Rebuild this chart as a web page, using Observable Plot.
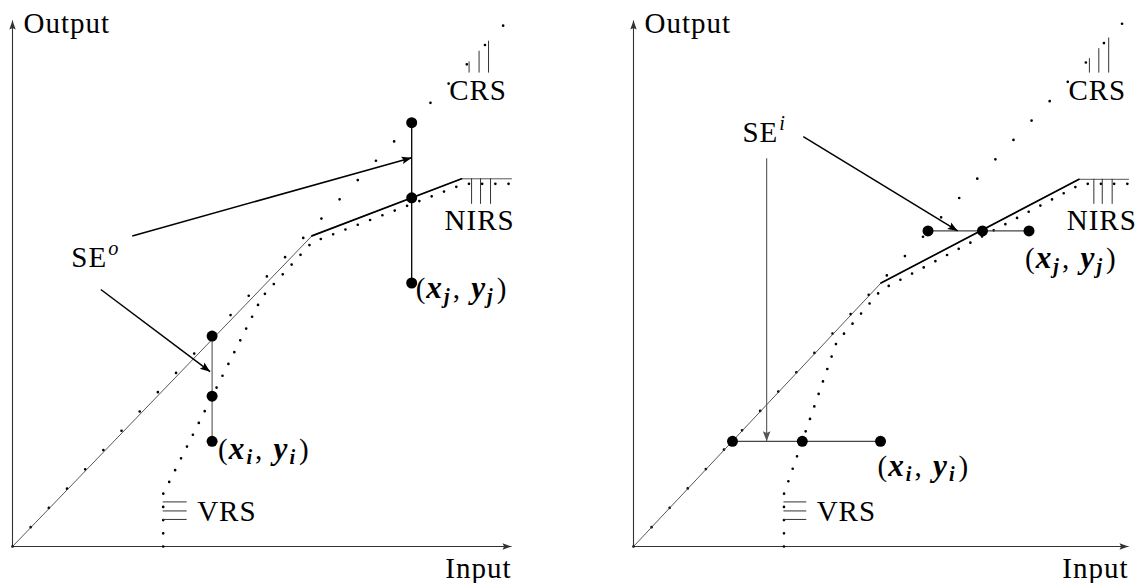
<!DOCTYPE html>
<html>
<head>
<meta charset="utf-8">
<script src="https://cdn.jsdelivr.net/npm/d3@7"></script>
<script src="https://cdn.jsdelivr.net/npm/@observablehq/plot@0.6"></script>
<style>
  html, body { margin: 0; padding: 0; background: #fff; }
  #fig { position: relative; width: 1137px; height: 583px; overflow: hidden; }
  #fig svg { position: absolute; top: 0; }
</style>
</head>
<body>
<div id="fig"></div>
<script>
// ---- Frontiers (input on x, output on y) ----
const crsFrontier = [{x: 0, y: 0}, {x: 9.95, y: 10.52}];

// Output-oriented panel
const nirsOut = [{x: 0, y: 0}, {x: 6.0, y: 6.2}, {x: 9.0, y: 7.34}, {x: 10, y: 7.34}];
const vrsOut = [{x: 3.02, y: 0}, {x: 3.02, y: 1.05}, {x: 5.0, y: 4.98}, {x: 6.0, y: 6.07}, {x: 9.05, y: 7.24}, {x: 10, y: 7.24}];
const unitIOut = [{x: 4.0, y: 4.2}, {x: 4.0, y: 3.0}, {x: 4.0, y: 2.1}];   // CRS, VRS projections, observed
const unitJOut = [{x: 8.0, y: 8.46}, {x: 8.0, y: 6.96}, {x: 8.0, y: 5.26}];
const arrowsOut = [{x1: 2.4, y1: 6.2, x2: 8.0, y2: 7.76}, {x1: 1.77, y1: 5.13, x2: 3.96, y2: 3.49}];

// Input-oriented panel
const nirsIn = [{x: 0, y: 0}, {x: 5.0, y: 5.26}, {x: 9.0, y: 7.33}, {x: 10, y: 7.33}];
const vrsIn = [{x: 3.04, y: 0}, {x: 3.04, y: 1.05}, {x: 4.1, y: 4.07}, {x: 5.0, y: 5.12}, {x: 9.05, y: 7.24}, {x: 10, y: 7.24}];
const unitIIn = [{x: 2.0, y: 2.1}, {x: 3.41, y: 2.1}, {x: 4.99, y: 2.1}];
const unitJIn = [{x: 5.95, y: 6.3}, {x: 7.05, y: 6.3}, {x: 7.99, y: 6.3}];
const arrowsIn = [{x1: 2.69, y1: 7.75, x2: 2.69, y2: 2.1}, {x1: 3.43, y1: 8.18, x2: 6.55, y2: 6.3}];

// Frontier name tags with their hatch ticks
const crsTagOut = {label: "CRS", x: 9.33, y: 9.1, hatch: [9.15, 9.35, 9.54], from: 9.45};
const crsTagIn = {label: "CRS", x: 9.37, y: 9.1, hatch: [9.21, 9.4, 9.6], from: 9.45};
const nirsTagOut = {label: "NIRS", x: 9.36, y: 6.5, hatch: [9.2, 9.38, 9.58], from: 6.83};
const nirsTagIn = {label: "NIRS", x: 9.46, y: 6.5, hatch: [9.3, 9.47, 9.67], from: 6.83};
const vrsTag = {label: "VRS", x: 3.7, y: 0.7, hatch: [0.89, 0.71, 0.54], to: 3.5};
const seTagOut = {label: "SE^o", x: 1.66, y: 5.76};
const seTagIn = {label: "SE^i", x: 2.64, y: 8.26};

const FONT = "'Liberation Serif', 'DejaVu Serif', serif";
const FS = 29;
const H = 583, MT = 20, MB = 37;

// filled, latex-style arrow head pointing along a screen angle (radians)
function headSymbol(angle, L, W) {
  const c = Math.cos(angle), s = Math.sin(angle);
  const pts = [[0, 0], [-L, -W], [-L * 0.82, 0], [-L, W]].map(([x, y]) => [x * c - y * s, x * s + y * c]);
  return {
    draw(ctx) {
      ctx.moveTo(pts[0][0], pts[0][1]);
      for (let i = 1; i < pts.length; ++i) ctx.lineTo(pts[i][0], pts[i][1]);
      ctx.closePath();
    }
  };
}

function arrowMarks(arrows, kx, ky, {stroke = "black", width = 1.4, L = 10, W = 3.8} = {}) {
  const marks = [Plot.link(arrows, {x1: "x1", y1: "y1", x2: "x2", y2: "y2", stroke, strokeWidth: width})];
  for (const a of arrows) {
    const ang = Math.atan2(-(a.y2 - a.y1) * ky, (a.x2 - a.x1) * kx);
    marks.push(Plot.dot([a], {x: "x2", y: "y2", r: 5, symbol: headSymbol(ang, L, W), fill: stroke, stroke: "none"}));
  }
  return marks;
}

function panel({width, left, ml, mr, nirs, vrs, unitI, unitJ, arrows, arrowStyles, crsTag, nirsTag, seTag,
                unitIStyle, unitJStyle, labelOffsets}) {
  const kx = (width - ml - mr) / 10, ky = (H - MT - MB) / 10.5;
  const crsSlope = crsFrontier[1].y / crsFrontier[1].x;
  const nirsTop = nirs[nirs.length - 1].y;
  const vrsX = vrs[0].x;
  const axes = [{x1: 0, y1: 0, x2: 10, y2: 0}, {x1: 0, y1: 0, x2: 0, y2: 10.5}];
  const text = {fontFamily: FONT, fontSize: FS, fill: "black", lineAnchor: "middle"};
  const marks = [
    ...arrowMarks(axes, kx, ky, {stroke: "#333", width: 1.1, L: 9, W: 3.2}),
    // frontiers
    Plot.line(crsFrontier, {x: "x", y: "y", stroke: "black", strokeWidth: 2.7, strokeLinecap: "round", strokeDasharray: "0 26.5"}),
    Plot.line(vrs, {x: "x", y: "y", stroke: "black", strokeWidth: 2.7, strokeLinecap: "round", strokeDasharray: "0 13.2"}),
    Plot.line(nirs, {x: "x", y: "y", stroke: "#444", strokeWidth: 0.9}),
    Plot.line(nirs.slice(1, 3), {x: "x", y: "y", stroke: "black", strokeWidth: 1.7}),
    // hatch ticks tying the names to the frontiers
    Plot.ruleX(crsTag.hatch, {x: d => d, y1: crsTag.from, y2: d => d * crsSlope, stroke: "#333", strokeWidth: 1}),
    Plot.ruleX(nirsTag.hatch, {x: d => d, y1: nirsTag.from, y2: nirsTop, stroke: "#333", strokeWidth: 1}),
    Plot.ruleY(vrsTag.hatch, {y: d => d, x1: vrsX, x2: vrsTag.to, stroke: "#333", strokeWidth: 1}),
    // projections of the two units
    Plot.line(unitI, {x: "x", y: "y", ...unitIStyle}),
    Plot.line(unitJ, {x: "x", y: "y", ...unitJStyle}),
  ];
  arrows.forEach((a, i) => marks.push(...arrowMarks([a], kx, ky, arrowStyles[i])));
  marks.push(
    Plot.dot([...unitI, ...unitJ], {x: "x", y: "y", r: 5.5, fill: "black", stroke: "none"}),
    Plot.text([crsTag, nirsTag], {x: "x", y: "y", text: "label", ...text}),
    Plot.text([vrsTag], {x: "x", y: "y", text: "label", textAnchor: "start", ...text}),
    Plot.text([seTag], {x: "x", y: "y", text: "label", ...text}),
    Plot.text([unitI[2]], {x: "x", y: "y", text: () => "(x_i, y_i)", textAnchor: "start", dx: labelOffsets.i[0], dy: labelOffsets.i[1], ...text}),
    Plot.text([unitJ[2]], {x: "x", y: "y", text: () => "(x_j, y_j)", textAnchor: "start", dx: labelOffsets.j[0], dy: labelOffsets.j[1], ...text}),
    Plot.text(["Output"], {frameAnchor: "top-left", text: d => d, textAnchor: "start", dx: 11, dy: -8, ...text, lineAnchor: "top"}),
    Plot.text(["Input"], {x: 10, y: 0, text: d => d, textAnchor: "end", dx: 0, dy: 22, ...text, lineAnchor: "middle"})
  );
  const svg = Plot.plot({
    width, height: H,
    marginLeft: ml, marginRight: mr, marginTop: MT, marginBottom: MB,
    x: {domain: [0, 10], axis: null},
    y: {domain: [0, 10.5], axis: null},
    style: {background: "transparent", maxWidth: "none", overflow: "visible", letterSpacing: "1px"},
    marks
  });
  svg.style.left = left + "px";
  richLabels(svg);
  return svg;
}

// math-style labels: superscripts, bold italic vectors with subscripts
function richLabels(svg) {
  const NS = "http://www.w3.org/2000/svg";
  const specs = {
    "SE^o": [["SE"], ["o", "sup"]],
    "SE^i": [["SE"], ["i", "sup"]],
    "(x_i, y_i)": [["("], ["x", "bi"], ["i", "sub"], [",", "", 2], [" "], ["y", "bi", 2], ["i", "sub"], [")", "", 3]],
    "(x_j, y_j)": [["("], ["x", "bi"], ["j", "sub"], [",", "", 2], [" "], ["y", "bi", 2], ["j", "sub"], [")", "", 3]]
  };
  svg.querySelectorAll("text").forEach(t => {
    const spec = specs[t.textContent];
    if (!spec) return;
    const holder = t.querySelector("tspan") || t;
    holder.textContent = "";
    let shift = 0;
    for (const [str, kind, gap] of spec) {
      const ts = document.createElementNS(NS, "tspan");
      ts.textContent = str;
      let target = 0;
      if (kind === "sup") {
        target = -12;
        ts.setAttribute("font-size", FS * 0.7);
        ts.setAttribute("font-style", "italic");
        ts.setAttribute("dx", 1);
      } else if (kind === "sub") {
        target = 5;
        ts.setAttribute("font-size", FS * 0.7);
        ts.setAttribute("font-style", "italic");
        ts.setAttribute("font-weight", "bold");
        ts.setAttribute("dx", 1);
      } else if (kind === "bi") {
        ts.setAttribute("font-style", "italic");
        ts.setAttribute("font-weight", "bold");
        ts.setAttribute("font-size", FS * 1.08);
      }
      if (gap) ts.setAttribute("dx", gap);
      if (target !== shift) { ts.setAttribute("dy", target - shift); shift = target; }
      holder.appendChild(ts);
    }
  });
}

const fig = document.getElementById("fig");
fig.appendChild(panel({
  width: 560, left: 0, ml: 12, mr: 49,
  nirs: nirsOut, vrs: vrsOut, unitI: unitIOut, unitJ: unitJOut,
  arrows: arrowsOut,
  arrowStyles: [{stroke: "black", width: 1.5}, {stroke: "black", width: 1.5}],
  crsTag: crsTagOut, nirsTag: nirsTagOut, seTag: seTagOut,
  unitIStyle: {stroke: "#555", strokeWidth: 1.1},
  unitJStyle: {stroke: "black", strokeWidth: 1.3},
  labelOffsets: {i: [6, 8], j: [4, 6]}
}));
fig.appendChild(panel({
  width: 577, left: 560, ml: 73, mr: 9,
  nirs: nirsIn, vrs: vrsIn, unitI: unitIIn, unitJ: unitJIn,
  arrows: arrowsIn,
  arrowStyles: [{stroke: "#555", width: 1.1}, {stroke: "black", width: 1.5}],
  crsTag: crsTagIn, nirsTag: nirsTagIn, seTag: seTagIn,
  unitIStyle: {stroke: "#444", strokeWidth: 1.2},
  unitJStyle: {stroke: "#444", strokeWidth: 1.2},
  labelOffsets: {i: [-3, 25], j: [-4, 28]}
}));
</script>
</body>
</html>
